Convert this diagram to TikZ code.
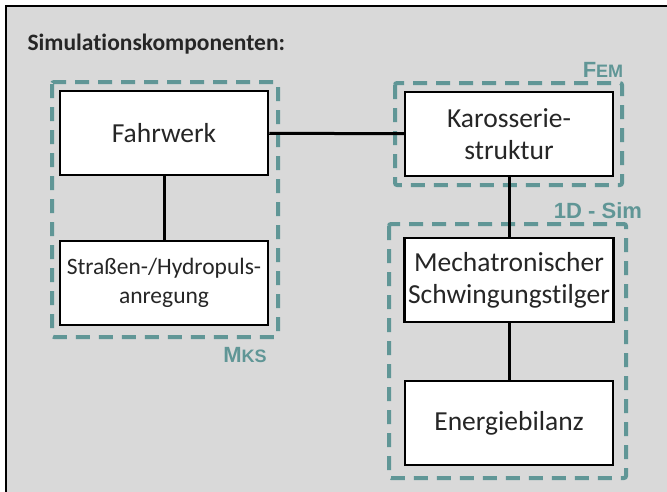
\documentclass[tikz,border=0pt]{standalone}
\usepackage{fontspec}
\setmainfont{Carlito}[Ligatures=NoCommon]
\newfontfamily\labelfont{Liberation Sans}
\definecolor{SIMgray}{RGB}{217,217,217}
\definecolor{SIMteal}{RGB}{96,150,150}
\definecolor{SIMtext}{RGB}{38,38,38}
\tikzstyle{SIMbox}=[draw=black, fill=white, line width=2.5pt, minimum width=208pt, minimum height=84pt, align=center, text=SIMtext, font=\fontsize{27.5}{32}\selectfont]
\tikzstyle{SIMgroup}=[draw=SIMteal, line width=4pt, dash pattern=on 14pt off 9pt, rounded corners=2pt]
\tikzstyle{SIMlabel}=[text=SIMteal, font=\labelfont\bfseries\fontsize{22}{26}\selectfont]
\tikzstyle{SIMlink}=[draw=black, line width=3pt]
\newcommand{\smallcap}[1]{{\fontsize{18}{20}\selectfont #1}}

\begin{document}
\begin{tikzpicture}[x=1pt, y=-1pt]
                \useasboundingbox (0,0) rectangle (667,491);
                \clip (0,0) rectangle (667,491);
                \fill [white] (0,0) rectangle (667,491);
                \filldraw [fill=SIMgray, draw=black, line width=2.5pt] (6,6) rectangle (700,520);
                \node [anchor=west, text=SIMtext, font=\bfseries\fontsize{23.5}{28}\selectfont] (title) at (24,44) {Simulationskomponenten:};
                % Gruppen
                \draw [SIMgroup] (52,82) rectangle (278,337);
                \draw [SIMgroup] (395,83) rectangle (622,185);
                \draw [SIMgroup] (389,224) rectangle (626,478);
                \node [SIMlabel] (mks) at (245,355) {M\smallcap{KS}};
                \node [SIMlabel] (fem) at (603,70) {F\smallcap{EM}};
                \node [SIMlabel] (sim) at (598,211) {1D - Sim};
                % Komponenten
                \node [SIMbox] (fahrwerk) at (164,133) {Fahrwerk};
                \node [SIMbox, font=\fontsize{23.5}{29}\selectfont] (anregung) at (164,283) {Straßen-/Hydropuls-\\anregung};
                \node [SIMbox] (karosserie) at (509,134) {Karosserie-\\struktur};
                \node [SIMbox] (tilger) at (509,280) {Mechatronischer\\Schwingungstilger};
                \node [SIMbox] (energie) at (509,423) {Energiebilanz};
                % Verbindungen
                \draw [SIMlink] (fahrwerk) -- (anregung);
                \draw [SIMlink] (fahrwerk) -- (karosserie);
                \draw [SIMlink] (karosserie) -- (tilger);
                \draw [SIMlink] (tilger) -- (energie);
            \end{tikzpicture}
\end{document}
